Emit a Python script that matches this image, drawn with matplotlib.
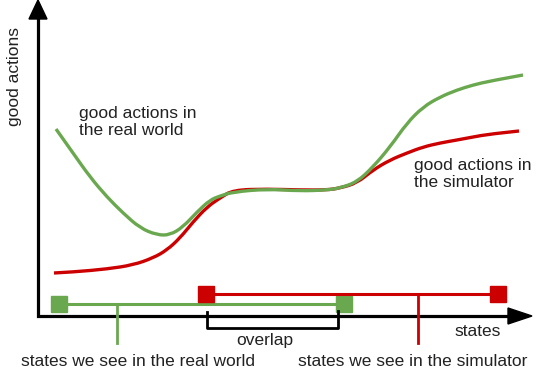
import matplotlib
matplotlib.use("Agg")
import matplotlib.pyplot as plt
from matplotlib.patches import Polygon, PathPatch
from matplotlib.path import Path

# curve samples (pixel space, y grows downward)
green_x = [56, 73, 90, 107, 123, 140, 157, 170, 183, 197, 210, 220, 233, 267, 300, 327,
           340, 357, 373, 390, 407, 423, 440, 457, 473, 490, 523]
green_y = [129, 153, 177, 197, 213, 228, 235, 235, 227, 212, 200, 196, 192, 189, 191, 190,
           188, 182, 167, 147, 123, 107, 97, 90, 85, 81, 75]
red_x = [54, 73, 107, 133, 153, 167, 180, 193, 207, 220, 233, 267, 300, 327,
         340, 357, 373, 390, 407, 423, 440, 457, 473, 490, 519]
red_y = [273, 272, 269, 265, 258, 250, 238, 222, 207, 198, 190, 189, 190, 190,
         188, 183, 170, 160, 153, 147, 143, 140, 137, 134, 131]

# state intervals: (start, end, level, tick position)
real_span = (59, 344, 304, 117)
sim_span = (206, 498, 294, 418)
overlap_span = (207, 338)

GREEN = '#6aa84f'
RED = '#cc0000'
FONT = 'Liberation Sans'


def smooth_path(xs, ys):
    # quadratic bezier pieces: samples act as control points, midpoints on the curve
    pts = list(zip(xs, ys))
    verts = [pts[0]]
    codes = [Path.MOVETO]
    for i in range(1, len(pts) - 1):
        mid = ((pts[i][0] + pts[i + 1][0]) / 2, (pts[i][1] + pts[i + 1][1]) / 2)
        if i == len(pts) - 2:
            mid = pts[-1]
        verts += [pts[i], mid]
        codes += [Path.CURVE3, Path.CURVE3]
    return Path(verts, codes)


fig = plt.figure(figsize=(5.4, 3.72), dpi=100)
ax = fig.add_axes([0, 0, 1, 1])
ax.set_xlim(0, 540)
ax.set_ylim(372, 0)
ax.axis('off')

# axes with arrow heads
ax.plot([38, 38, 512], [12, 316, 316], color='black', lw=2.3, solid_joinstyle='miter')
ax.add_patch(Polygon([(38, 0), (29, 19), (47, 19)], closed=True, color='black'))
ax.add_patch(Polygon([(532, 316), (508, 308), (508, 324)], closed=True, color='black'))

# curves
ax.add_patch(PathPatch(smooth_path(red_x, red_y), fill=False, edgecolor=RED, lw=2.4))
ax.add_patch(PathPatch(smooth_path(green_x, green_y), fill=False, edgecolor=GREEN, lw=2.4))

# intervals
for (x0, x1, yl, xt), col in [(real_span, GREEN), (sim_span, RED)]:
    ax.plot([x0, x1], [yl, yl], color=col, lw=2.2)
    ax.plot([xt, xt], [yl, 343], color=col, lw=2.0)
    ax.plot([x0, x1], [yl, yl], ls='none', marker='s', ms=11.5, color=col)

# overlap bracket
ox0, ox1 = overlap_span
ax.plot([ox0, ox0, ox1, ox1], [312, 328, 328, 311], color='black', lw=2.0)

txt = dict(fontsize=12.5, family=FONT, color='#222222')
ax.text(15, 77, 'good actions', rotation=90, ha='center', va='center', **txt)
ax.text(79, 122, 'good actions in\nthe real world', ha='left', va='center', linespacing=1.15, **txt)
ax.text(414, 174, 'good actions in\nthe simulator', ha='left', va='center', linespacing=1.15, **txt)
ax.text(478, 331, 'states', ha='center', va='center', **txt)
ax.text(265, 340, 'overlap', ha='center', va='center', **txt)
ax.text(138, 362, 'states we see in the real world', ha='center', va='center', **txt)
ax.text(413, 362, 'states we see in the simulator', ha='center', va='center', **txt)

fig.savefig('out.png', dpi=100, facecolor='white')
